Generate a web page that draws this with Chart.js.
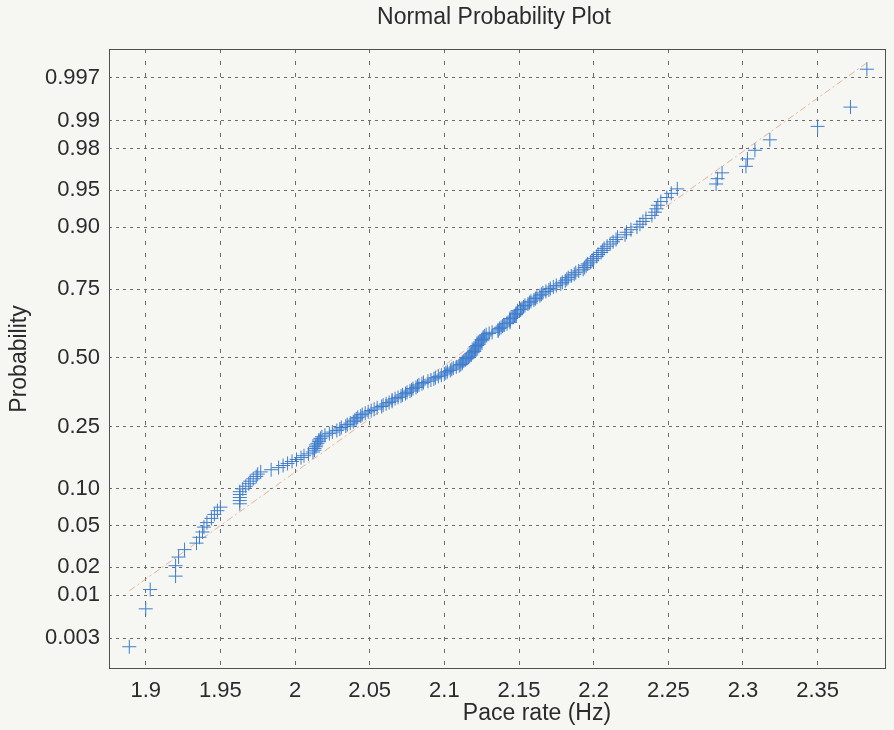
<!DOCTYPE html>
<html>
<head>
<meta charset="utf-8">
<script src="https://cdn.jsdelivr.net/npm/chart.js@4.4.0/dist/chart.umd.min.js"></script>
<style>
  html, body { margin: 0; padding: 0; background: #f6f7f3; }
  canvas { display: block; }
</style>
</head>
<body>
<canvas id="plot" width="894" height="730"></canvas>
<script>
// Normal probability plot of pace rate, MATLAB normplot style.
// Points: sorted pace rates vs. plotting position (i - 0.5) / n on a normal-quantile axis.

const paceRate = [
  1.889, 1.900, 1.903, 1.920, 1.920, 1.922, 1.926, 1.934, 1.936, 1.938,
  1.939, 1.941, 1.944, 1.946, 1.948, 1.950, 1.963, 1.963, 1.963, 1.963,
  1.963, 1.965, 1.967, 1.969, 1.970, 1.972, 1.974, 1.975, 1.977, 1.984,
  1.989, 1.992, 1.995, 1.998, 2.001, 2.004, 2.006, 2.009, 2.012, 2.013,
  2.013, 2.014, 2.014, 2.015, 2.016, 2.016, 2.017, 2.018, 2.020, 2.023,
  2.025, 2.028, 2.030, 2.031, 2.034, 2.035, 2.037, 2.039, 2.040, 2.041,
  2.042, 2.044, 2.045, 2.047, 2.049, 2.051, 2.053, 2.055, 2.058, 2.059,
  2.061, 2.063, 2.065, 2.065, 2.067, 2.069, 2.071, 2.072, 2.074, 2.075,
  2.077, 2.078, 2.079, 2.081, 2.082, 2.083, 2.085, 2.086, 2.089, 2.091,
  2.093, 2.094, 2.096, 2.098, 2.100, 2.101, 2.102, 2.104, 2.105, 2.106,
  2.108, 2.110, 2.111, 2.112, 2.112, 2.113, 2.114, 2.115, 2.116, 2.117,
  2.118, 2.118, 2.119, 2.120, 2.120, 2.121, 2.121, 2.121, 2.122, 2.123,
  2.123, 2.124, 2.125, 2.125, 2.126, 2.126, 2.127, 2.128, 2.130, 2.132,
  2.136, 2.136, 2.137, 2.138, 2.139, 2.140, 2.142, 2.144, 2.144, 2.144,
  2.144, 2.146, 2.147, 2.148, 2.148, 2.149, 2.149, 2.151, 2.152, 2.153,
  2.154, 2.156, 2.157, 2.158, 2.160, 2.161, 2.162, 2.164, 2.165, 2.166,
  2.168, 2.170, 2.171, 2.173, 2.175, 2.178, 2.179, 2.181, 2.182, 2.183,
  2.185, 2.187, 2.188, 2.190, 2.193, 2.194, 2.195, 2.196, 2.198, 2.199,
  2.200, 2.202, 2.203, 2.205, 2.206, 2.207, 2.209, 2.211, 2.213, 2.215,
  2.216, 2.221, 2.222, 2.225, 2.229, 2.231, 2.233, 2.235, 2.239, 2.241,
  2.242, 2.243, 2.245, 2.249, 2.252, 2.256, 2.282, 2.283, 2.286, 2.302,
  2.303, 2.308, 2.318, 2.350, 2.372, 2.383,
];

const probTicks = [0.003, 0.01, 0.02, 0.05, 0.10, 0.25, 0.50, 0.75, 0.90, 0.95, 0.98, 0.99, 0.997];
const probTickLabels = ['0.003', '0.01', '0.02', '0.05', '0.10', '0.25', '0.50',
                        '0.75', '0.90', '0.95', '0.98', '0.99', '0.997'];
const xTicks = [1.9, 1.95, 2, 2.05, 2.1, 2.15, 2.2, 2.25, 2.3, 2.35];
const xTickLabels = ['1.9', '1.95', '2', '2.05', '2.1', '2.15', '2.2', '2.25', '2.3', '2.35'];

// fitted reference line, end points
const refLineX = [1.889, 2.383];
const refLineProb = [0.0112, 0.9981];

const FONT = '"Liberation Sans", Arial, Helvetica, sans-serif';
const INK = '#2b2b2b';
const GRID = '#6e6e6e';

// Inverse normal CDF (Acklam) - maps probability onto the quantile axis.
function normInv(p) {
  const a = [-39.69683028665376, 220.9460984245205, -275.9285104469687,
             138.3577518672690, -30.66479806614716, 2.506628277459239];
  const b = [-54.47609879822406, 161.5858368580409, -155.6989798598866,
             66.80131188771720, -13.28068155288572];
  const c = [-0.007784894002430293, -0.3223964580411365, -2.400758277161838,
             -2.549732539343734, 4.374664141464968, 2.938163982698783];
  const d = [0.007784695709041462, 0.3224671290700398, 2.445134137142996, 3.754408661907416];
  const lo = 0.02425;
  if (p < lo) {
    const q = Math.sqrt(-2 * Math.log(p));
    return (((((c[0]*q + c[1])*q + c[2])*q + c[3])*q + c[4])*q + c[5]) /
           ((((d[0]*q + d[1])*q + d[2])*q + d[3])*q + 1);
  }
  if (p > 1 - lo) {
    const q = Math.sqrt(-2 * Math.log(1 - p));
    return -(((((c[0]*q + c[1])*q + c[2])*q + c[3])*q + c[4])*q + c[5]) /
            ((((d[0]*q + d[1])*q + d[2])*q + d[3])*q + 1);
  }
  const q = p - 0.5, r = q * q;
  return (((((a[0]*r + a[1])*r + a[2])*r + a[3])*r + a[4])*r + a[5]) * q /
         (((((b[0]*r + b[1])*r + b[2])*r + b[3])*r + b[4])*r + 1);
}

const n = paceRate.length;
const points = paceRate.map((x, i) => ({ x, y: normInv((i + 0.5) / n) }));
const refLine = refLineX.map((x, i) => ({ x, y: normInv(refLineProb[i]) }));

// axes box + title / x label (MATLAB puts the xlabel a bit right of centre here)
const frame = {
  id: 'frame',
  afterDraw(chart) {
    const { ctx, chartArea: a } = chart;
    ctx.save();
    ctx.strokeStyle = '#505050';
    ctx.lineWidth = 1;
    ctx.setLineDash([]);
    ctx.strokeRect(a.left + 0.5, a.top + 0.5, a.right - a.left - 1, a.bottom - a.top - 1);
    ctx.fillStyle = INK;
    ctx.textAlign = 'center';
    ctx.textBaseline = 'middle';
    ctx.font = '23px ' + FONT;
    ctx.fillText('Normal Probability Plot', 494, 18);
    ctx.fillText('Pace rate (Hz)', 537, 714);
    ctx.restore();
  },
};

new Chart(document.getElementById('plot'), {
  type: 'scatter',
  data: {
    datasets: [
      {
        data: points,
        pointStyle: 'cross',
        pointRadius: 7,
        pointHoverRadius: 7,
        borderColor: '#3f7dcc',
        borderWidth: 1,
        order: 1,
      },
      {
        data: refLine,
        showLine: true,
        borderColor: 'rgba(226,150,110,0.7)',
        borderWidth: 1,
        borderDash: [7, 3, 2, 3],
        pointRadius: 0,
        order: 2,
      },
    ],
  },
  options: {
    responsive: false,
    animation: false,
    layout: { padding: { top: 49, right: 1, left: 0, bottom: 0 } },
    plugins: { legend: { display: false }, tooltip: { enabled: false }, title: { display: false } },
    scales: {
      x: {
        type: 'linear',
        min: 1.8754,
        max: 2.3958,
        afterBuildTicks: s => { s.ticks = xTicks.map(v => ({ value: v })); },
        afterFit: s => { s.height = 61; },
        ticks: {
          autoSkip: false,
          maxRotation: 0,
          padding: 9,
          color: INK,
          font: { size: 22, family: FONT },
          callback: (v, i) => xTickLabels[i],
        },
        grid: { color: GRID, lineWidth: 1, drawTicks: false },
        border: { display: false, dash: [4, 8] },
      },
      y: {
        type: 'linear',
        min: -3.05,
        max: 3.03,
        afterBuildTicks: s => { s.ticks = probTicks.map(p => ({ value: normInv(p) })); },
        afterFit: s => { s.width = 109; },
        ticks: {
          autoSkip: false,
          padding: 9,
          color: INK,
          font: { size: 22, family: FONT },
          callback: (v, i) => probTickLabels[i],
        },
        grid: { color: GRID, lineWidth: 1, drawTicks: false },
        border: { display: false, dash: [3, 4] },
        title: {
          display: true,
          text: 'Probability',
          color: INK,
          font: { size: 23, family: FONT },
          padding: { top: 6, bottom: 0 },
        },
      },
    },
  },
  plugins: [frame],
});
</script>
</body>
</html>
